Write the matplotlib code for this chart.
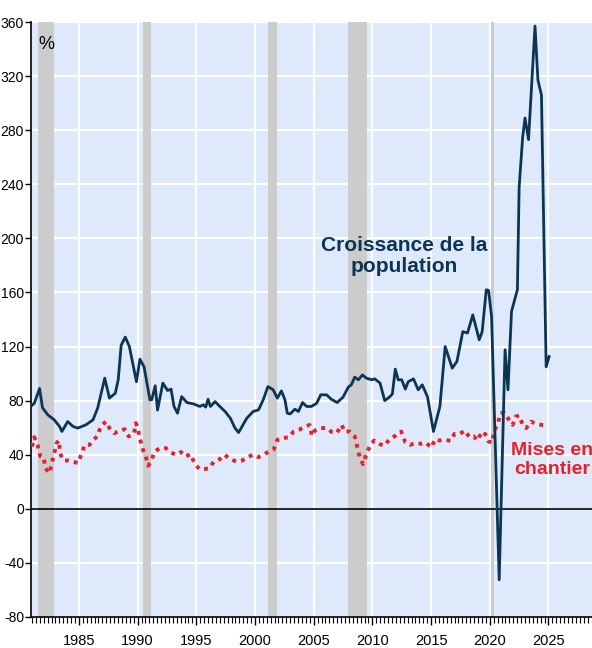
import matplotlib
matplotlib.use("Agg")
import matplotlib.pyplot as plt
from matplotlib.ticker import MultipleLocator, FixedLocator

plt.rcParams['font.family'] = ['Liberation Sans', 'DejaVu Sans']
plt.rcParams['axes.unicode_minus'] = False

# Croissance de la population (ligne pleine)
pop_annee = [1980.93, 1981.2, 1981.65, 1981.9, 1982.35, 1982.9, 1983.35, 1983.55, 1984.05, 1984.5,
             1984.9, 1985.6, 1986.2, 1986.6, 1987.2, 1987.6, 1988.1, 1988.35, 1988.6, 1988.95,
             1989.3, 1989.9, 1990.2, 1990.55, 1991.05, 1991.2, 1991.5, 1991.7, 1992.15, 1992.55,
             1992.85, 1993.1, 1993.4, 1993.75, 1994.2, 1994.75, 1995.3, 1995.6, 1995.8, 1996.0,
             1996.2, 1996.6, 1997.0, 1997.45, 1997.9, 1998.3, 1998.6, 1998.9, 1999.3, 1999.85,
             2000.3, 2000.7, 2001.1, 2001.55, 2001.9, 2002.25, 2002.55, 2002.75, 2003.0, 2003.4,
             2003.7, 2004.05, 2004.4, 2004.8, 2005.25, 2005.6, 2006.1, 2006.5, 2007.0, 2007.5,
             2007.95, 2008.2, 2008.5, 2008.8, 2009.15, 2009.5, 2009.95, 2010.2, 2010.65, 2011.05,
             2011.5, 2011.7, 2011.95, 2012.2, 2012.5, 2012.8, 2013.05, 2013.5, 2013.9, 2014.25,
             2014.7, 2015.2, 2015.75, 2016.2, 2016.8, 2017.2, 2017.7, 2018.1, 2018.55, 2019.1,
             2019.35, 2019.7, 2019.9, 2020.15, 2020.8, 2021.3, 2021.55, 2021.85, 2022.35, 2022.5,
             2022.8, 2023.0, 2023.3, 2023.85, 2024.1, 2024.4, 2024.8, 2025.05]
pop_val = [76, 78, 89, 74.7, 69.5, 65.8, 60.9, 57.2, 64.5, 60.9,
           59.7, 62.1, 65.8, 74.5, 96.6, 81.9, 85.5, 95.4, 121, 127,
           120, 94, 110.7, 105, 80.6, 80.6, 91, 73, 93, 87.5,
           88.5, 75.7, 70.7, 83, 78.6, 77.6, 75.7, 76.9, 75.2, 81,
           75.7, 79.3, 75.7, 72, 67, 59.7, 56.4, 60.9, 67, 72,
           73.2, 80.6, 90.4, 88, 81.9, 87.2, 80.6, 70.7, 70.2, 73.7,
           72, 78.6, 75.7, 75.7, 78, 84.3, 84.3, 81, 78.6, 82.6,
           90, 91.7, 97.4, 95.4, 99, 96.6, 95.4, 96.1, 93, 80,
           83, 85, 103.3, 95.4, 95.4, 88.5, 94, 96.1, 88, 91.7,
           82.6, 57.2, 75.7, 120, 104, 109, 131, 130, 143.4, 125,
           131, 162, 161.4, 142, -52.5, 117.6, 88, 146, 162, 238,
           275, 289, 273, 357, 317, 306, 105, 112.6]

# Mises en chantier (pointillé)
mises_annee = [1981.0, 1981.2, 1981.5, 1981.7, 1982.0, 1982.15, 1982.5, 1982.7, 1982.9, 1983.1,
               1983.3, 1983.4, 1983.7, 1984.1, 1984.5, 1984.9, 1985.2, 1985.5, 1985.9, 1986.2,
               1986.6, 1986.85, 1987.3, 1987.6, 1988.0, 1988.4, 1988.9, 1989.25, 1989.7, 1989.85,
               1990.0, 1990.15, 1990.4, 1990.7, 1990.9, 1991.15, 1991.45, 1991.9, 1992.4, 1992.85,
               1993.25, 1993.7, 1994.1, 1994.5, 1994.85, 1995.25, 1995.7, 1996.1, 1996.5, 1997.0,
               1997.4, 1997.9, 1998.4, 1998.9, 1999.35, 1999.85, 2000.3, 2000.7, 2001.2, 2001.6,
               2001.9, 2002.4, 2002.9, 2003.3, 2003.75, 2004.25, 2004.65, 2004.85, 2005.1, 2005.6,
               2006.1, 2006.55, 2006.95, 2007.4, 2007.6, 2008.05, 2008.5, 2008.7, 2008.9, 2009.2,
               2009.5, 2009.8, 2010.15, 2010.65, 2011.0, 2011.5, 2012.0, 2012.45, 2012.8, 2013.2,
               2013.7, 2014.15, 2014.55, 2015.0, 2015.35, 2015.7, 2016.2, 2016.65, 2017.0, 2017.45,
               2017.9, 2018.25, 2018.65, 2018.9, 2019.1, 2019.5, 2019.9, 2020.2, 2020.35, 2020.7,
               2020.9, 2021.2, 2021.6, 2021.95, 2022.2, 2022.5, 2022.8, 2023.1, 2023.5, 2023.95,
               2024.4, 2024.95]
mises_val = [46, 53, 46.6, 39, 38, 30, 26.4, 34, 41, 48.6,
             50.5, 40.7, 35.7, 35.7, 35, 33.8, 40, 47.3, 47.3, 50.5,
             54, 60.9, 64.5, 59.7, 56, 57.2, 58.9, 53.5, 56, 63.4,
             60.4, 53.5, 44.9, 38.7, 31.8, 35, 42.4, 44.9, 44.9, 41.6,
             40, 42, 38.7, 40.4, 33.8, 29.4, 29.4, 30, 35, 36.7,
             40, 36.7, 35, 35.7, 38.2, 40, 38.2, 40, 42.4, 44.1,
             51, 52.3, 53, 57.2, 58.4, 60.9, 62, 54, 57.9, 59.7,
             59.7, 56.7, 56, 62, 57.2, 57.2, 53.5, 46, 38.7, 33,
             40.7, 46.8, 50.5, 47.8, 46.6, 51.8, 54.2, 57.2, 49.3, 47.3,
             48.6, 48.1, 49, 45.3, 51.5, 50.5, 51, 50.3, 55.5, 55.5,
             57.9, 53, 53.5, 50.5, 53.5, 57.2, 49.8, 49, 57.2, 63.4,
             70.7, 71.2, 66.3, 62.1, 68.2, 69, 62.1, 59.7, 64.5, 62.8,
             62.1, 61.5]

# Récessions
recessions = [(1981.5, 1982.9), (1990.5, 1991.1), (2001.1, 2001.9), (2007.9, 2009.5), (2020.1, 2020.35)]

annees_etiquettes = [1985, 1990, 1995, 2000, 2005, 2010, 2015, 2020, 2025]

fig = plt.figure(figsize=(5.92, 6.48), dpi=100)
x0, x1 = 1980.92, 2030.0
px_an = 11.74
larg = (x1 - x0) * px_an / 592
ax = fig.add_axes([31 / 592, 1 - 617 / 648, larg, 595 / 648])
ax.set_facecolor('#deeafb')

for debut, fin in recessions:
    ax.axvspan(debut, fin, color='#cccccc', lw=0, zorder=1)

ax.set_xlim(x0, x1)
ax.set_ylim(-80, 360)
ax.yaxis.set_major_locator(MultipleLocator(40))
ax.xaxis.set_major_locator(FixedLocator(annees_etiquettes))
ax.xaxis.set_minor_locator(MultipleLocator(1 / 3))
ax.grid(True, color='white', lw=1.5, zorder=2)
ax.set_axisbelow(True)
ax.axhline(0, color='black', lw=1.2, zorder=3)

ax.plot(mises_annee, mises_val, color='#e8202a', lw=2.8, ls=(0, (1.0, 1.3)), zorder=4)
ax.plot(pop_annee, pop_val, color='#0b3553', lw=2.0, zorder=5)

for s in ['top', 'right']:
    ax.spines[s].set_visible(False)
ax.spines['left'].set_linewidth(1.2)
ax.spines['bottom'].set_linewidth(1.2)
ax.tick_params(axis='y', length=4, width=1, labelsize=10, pad=1)
ax.tick_params(axis='x', which='major', length=6, width=1, labelsize=10.5, pad=6)
ax.tick_params(axis='x', which='minor', length=4, width=0.8)

ax.text(1982.2, 343, '%', fontsize=13, ha='center', va='center')
ax.text(2012.75, 187, 'Croissance de la\npopulation', color='#0b3553', fontsize=15, fontweight='bold',
        ha='center', va='center', linespacing=1.15)
ax.text(2025.3, 36, 'Mises en\nchantier', color='#e8202a', fontsize=14, fontweight='bold',
        ha='center', va='center', linespacing=1.15)

fig.savefig('out.png', dpi=100)
